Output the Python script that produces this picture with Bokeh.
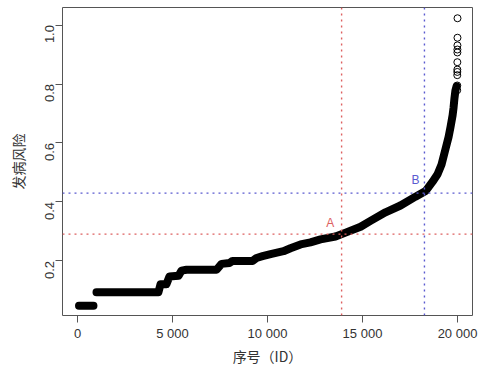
import math
from bokeh.plotting import figure
from bokeh.models import Range1d, FixedTicker, Span, Label, NumeralTickFormatter
from bokeh.embed import file_html
from bokeh.resources import INLINE

# ---- data (sorted risk by ID) ----
step1_id = [80, 840]
step1_risk = [0.048, 0.048]

curve_id = [1000, 4260, 4370, 4680, 4840, 5320, 5470, 5740, 7320, 7580, 8000,
            8160, 9210, 9420, 9740, 10160, 10840, 11210, 11740, 12260, 12790,
            13580, 14110, 14900, 15420, 16210, 17000, 17790, 18320, 18680,
            18950, 19160, 19370, 19530, 19630, 19740, 19790, 19840, 19890, 19950]
curve_risk = [0.094, 0.094, 0.121, 0.121, 0.147, 0.150, 0.167, 0.170, 0.170,
              0.190, 0.193, 0.200, 0.200, 0.210, 0.216, 0.223, 0.233, 0.243,
              0.256, 0.263, 0.273, 0.283, 0.296, 0.316, 0.336, 0.365, 0.388,
              0.418, 0.437, 0.468, 0.494, 0.527, 0.580, 0.620, 0.653, 0.693,
              0.719, 0.752, 0.778, 0.792]

tail_id = [19985, 19987, 19988, 19990, 19991, 19992, 19994, 19995, 19996, 19998, 20000]
tail_risk = [0.779, 0.795, 0.830, 0.841, 0.849, 0.874, 0.907, 0.917, 0.931, 0.957, 1.023]

x_ticks = [0, 5000, 10000, 15000, 20000]
x_tick_labels = ["0", "5 000", "10 000", "15 000", "20 000"]
y_ticks = [0.2, 0.4, 0.6, 0.8, 1.0]

point_a_id, point_a_risk = 13900, 0.291
point_b_id, point_b_risk = 18260, 0.430
label_a_pos = (13300, 0.327)
label_b_pos = (17790, 0.473)

RED = "#dd6060"
BLUE = "#5a5ad0"
TICK_FONT = "Liberation Sans"
CJK_FONT = "Noto Sans CJK SC"

p = figure(width=484, height=368, output_backend="svg", toolbar_location=None,
           x_range=Range1d(-789, 20789), y_range=Range1d(0.0149, 1.0595),
           min_border_left=62, min_border_right=12, min_border_top=7,
           min_border_bottom=45)
p.background_fill_color = "white"
p.border_fill_color = "white"
p.outline_line_color = "#555555"
p.outline_line_width = 1
p.grid.visible = False

# axes
for ax in (p.xaxis[0], p.yaxis[0]):
    ax.axis_line_color = None
    ax.major_tick_line_color = "#555555"
    ax.major_tick_out = 7
    ax.major_tick_in = 0
    ax.minor_tick_line_color = None
    ax.major_label_text_font = TICK_FONT
    ax.major_label_text_font_size = "13px"
    ax.major_label_text_color = "#333333"
    ax.axis_label_text_font = CJK_FONT
    ax.axis_label_text_font_size = "14px"
    ax.axis_label_text_font_style = "normal"
    ax.axis_label_text_color = "#333333"

p.xaxis.ticker = FixedTicker(ticks=x_ticks)
p.xaxis.major_label_overrides = {t: s for t, s in zip(x_ticks, x_tick_labels)}
p.xaxis.major_label_standoff = 3
p.xaxis.axis_label = "序号（ID）"
p.xaxis.axis_label_standoff = 2

p.yaxis.ticker = FixedTicker(ticks=y_ticks)
p.yaxis.formatter = NumeralTickFormatter(format="0.0")
p.yaxis.major_label_orientation = math.pi / 2
p.yaxis.major_label_standoff = 6
p.yaxis.axis_label = "发病风险"
p.yaxis.axis_label_standoff = 10

# reference lines
p.add_layout(Span(location=point_a_risk, dimension="width", line_color=RED,
                  line_dash="2 4", line_width=1.4))
p.add_layout(Span(location=point_a_id, dimension="height", line_color=RED,
                  line_dash="2 4", line_width=1.4))
p.add_layout(Span(location=point_b_risk, dimension="width", line_color=BLUE,
                  line_dash="2 4", line_width=1.4))
p.add_layout(Span(location=point_b_id, dimension="height", line_color=BLUE,
                  line_dash="2 4", line_width=1.4))

# sorted risk curve (dense points drawn as thick band)
p.line(step1_id, step1_risk, line_color="black", line_width=8, line_cap="round")
p.line(curve_id, curve_risk, line_color="black", line_width=8,
       line_cap="round", line_join="round")
p.scatter(tail_id, tail_risk, marker="circle", size=7, fill_color=None,
          line_color="black", line_width=1)

# labels A / B
p.add_layout(Label(x=label_a_pos[0], y=label_a_pos[1], text="A", text_color=RED,
                   text_font=TICK_FONT, text_font_size="12px",
                   text_align="center", text_baseline="middle"))
p.add_layout(Label(x=label_b_pos[0], y=label_b_pos[1], text="B", text_color=BLUE,
                   text_font=TICK_FONT, text_font_size="12px",
                   text_align="center", text_baseline="middle"))

open("out.html", "w").write(file_html(p, INLINE))
